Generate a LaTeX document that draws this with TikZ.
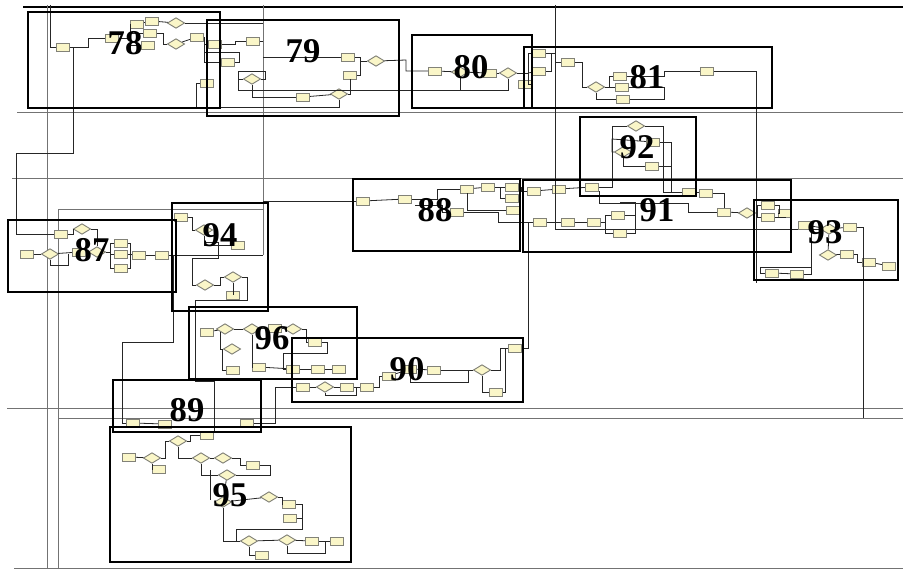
\documentclass[tikz,border=0pt]{standalone}
\usepackage{fontspec}
\setmainfont{Liberation Serif}
\usepackage{xcolor}
\definecolor{boxyellow}{RGB}{250,246,200}
\definecolor{boxedge}{RGB}{130,130,120}
\definecolor{boxblue}{RGB}{40,60,170}
\usetikzlibrary{shapes.geometric}
\tikzset{
  blk/.style={draw=boxedge, fill=boxyellow, line width=0.7pt, minimum width=10pt, minimum height=6pt, inner sep=0pt},
  blkb/.style={blk, path picture={\draw[boxblue, line width=1pt] (path picture bounding box.north west) -- (path picture bounding box.north east);}},
  dec/.style={draw=boxedge, fill=boxyellow, diamond, aspect=1.6, minimum width=13pt, minimum height=8pt, inner sep=0pt, line width=0.7pt},
  wire/.style={draw=black!85, line width=0.6pt},
  grid line/.style={draw=black!55, line width=0.6pt},
  frame/.style={draw=black, line width=1.6pt},
  num/.style={font=\fontsize{26}{26}\selectfont\bfseries, inner sep=0pt},
}
\begin{document}
\begin{tikzpicture}[x=0.75pt, y=-0.75pt]
  \useasboundingbox (0,0) rectangle (903,569);
  % long lines of the sheet
  \draw[line width=1.8pt] (23,7) -- (903,7);
  \draw[grid line] (17,112) -- (903,112);
  \draw[grid line] (12,178) -- (903,178);
  \draw[grid line] (7,408) -- (903,408);
  \draw[grid line] (58,418) -- (903,418);
  \draw[grid line] (14,568) -- (903,568);
  \draw[grid line] (47,5) -- (47,569);
  \draw[grid line] (58,569) -- (58,209) -- (263,209);
  \draw[grid line] (263,5) -- (263,255);
  \coordinate (t50) at (50,5); \coordinate (t555) at (555,5); \coordinate (k78) at (73,47);
  \coordinate (j79) at (263,57); \coordinate (j88) at (263,201); \coordinate (j87) at (263,255);
  \coordinate (s94) at (173,255); \coordinate (e81) at (756,283); \coordinate (e93) at (863,418);

  % 78
  \node[blk] (b78a) at (63,47) {}; \node[blk] (b78b) at (112,38) {};
  \node[blk] (b78c) at (137,24) {}; \node[blk] (b78d) at (152,21) {};
  \node[blk] (b78e) at (150,33) {}; \node[blk] (b78f) at (148,45) {};
  \node[dec] (d78a) at (176,23) {}; \node[dec] (d78b) at (176,44) {};
  \node[blk] (b78g) at (197,37) {}; \node[blk] (b78h) at (207,83) {};
  % 79
  \node[blk] (b79a) at (215,44) {}; \node[blk] (b79b) at (228,62) {};
  \node[blk] (b79c) at (253,41) {}; \node[dec] (d79a) at (252,79) {};
  \node[blk] (b79d) at (303,97) {}; \node[dec] (d79b) at (339,94) {};
  \node[blk] (b79e) at (348,57) {}; \node[blk] (b79f) at (350,75) {};
  \node[dec] (d79c) at (376,61) {};
  % 80
  \node[blk] (b80a) at (435,71) {}; \node[dec] (d80a) at (460,72) {};
  \node[blk] (b80b) at (490,73) {}; \node[dec] (d80b) at (508,73) {};
  \node[blkb] (b80c) at (525,84) {};
  % 81
  \node[blk] (b81a) at (539,53) {}; \node[blk] (b81b) at (539,71) {};
  \node[blk] (b81c) at (568,62) {}; \node[dec] (d81a) at (596,87) {};
  \node[blk] (b81d) at (620,76) {}; \node[blk] (b81e) at (622,87) {};
  \node[blk] (b81f) at (623,99) {}; \node[blk] (b81g) at (707,71) {};
  % 92
  \node[dec] (d92a) at (636,126) {}; \node[blk] (b92a) at (653,142) {};
  \node[dec] (d92b) at (623,152) {}; \node[blk] (b92b) at (652,166) {};
  % 88
  \node[blkb] (b88a) at (363,201) {}; \node[blk] (b88b) at (405,199) {};
  \node[blk] (b88c) at (467,189) {}; \node[blk] (b88d) at (488,187) {};
  \node[blk] (b88e) at (512,187) {}; \node[blk] (b88f) at (512,198) {};
  \node[blk] (b88g) at (513,210) {}; \node[blk] (b88h) at (457,212) {};
  % 91
  \node[blkb] (b91a) at (534,191) {}; \node[blk] (b91b) at (559,189) {};
  \node[blk] (b91c) at (592,187) {}; \node[blkb] (b91d) at (689,192) {};
  \node[blk] (b91e) at (706,193) {}; \node[blkb] (b91f) at (724,212) {};
  \node[dec] (d91a) at (747,213) {};
  \node[blkb] (b91g) at (540,222) {}; \node[blk] (b91h) at (568,222) {};
  \node[blk] (b91i) at (594,222) {}; \node[blk] (b91j) at (618,215) {};
  \node[blk] (b91k) at (620,233) {};
  % 93
  \node[blk] (b93a) at (768,205) {}; \node[blk] (b93b) at (768,217) {};
  \node[blk] (b93c) at (785,213) {}; \node[blkb] (b93d) at (805,225) {};
  \node[dec] (d93a) at (829,229) {}; \node[blk] (b93e) at (850,227) {};
  \node[dec] (d93b) at (828,255) {}; \node[blk] (b93f) at (847,254) {};
  \node[blk] (b93g) at (869,262) {}; \node[blk] (b93h) at (889,266) {};
  \node[blk] (b93i) at (772,273) {}; \node[blk] (b93j) at (797,274) {};
  % 87
  \node[blk] (b87a) at (27,254) {}; \node[dec] (d87a) at (50,254) {};
  \node[blk] (b87b) at (61,234) {}; \node[dec] (d87b) at (82,229) {};
  \node[blk] (b87c) at (79,252) {}; \node[dec] (d87c) at (97,252) {};
  \node[blk] (b87d) at (121,243) {}; \node[blk] (b87e) at (121,254) {};
  \node[blk] (b87f) at (121,268) {}; \node[blk] (b87g) at (139,255) {};
  \node[blk] (b87h) at (162,255) {};
  % 94
  \node[blk] (b94a) at (181,217) {}; \node[dec] (d94a) at (204,230) {};
  \node[blk] (b94b) at (238,245) {}; \node[dec] (d94b) at (205,285) {};
  \node[dec] (d94c) at (233,277) {}; \node[blk] (b94c) at (233,295) {};
  % 96
  \node[blk] (b96a) at (207,332) {}; \node[dec] (d96a) at (225,329) {};
  \node[dec] (d96b) at (252,329) {}; \node[blk] (b96b) at (275,328) {};
  \node[dec] (d96c) at (293,329) {}; \node[blk] (b96c) at (315,342) {};
  \node[dec] (d96d) at (232,349) {}; \node[blk] (b96d) at (233,370) {};
  \node[blk] (b96e) at (259,367) {}; \node[blk] (b96f) at (293,369) {};
  \node[blk] (b96g) at (318,369) {}; \node[blk] (b96h) at (339,369) {};
  % 90
  \node[blk] (b90a) at (303,387) {}; \node[dec] (d90a) at (325,387) {};
  \node[blk] (b90b) at (347,387) {}; \node[blk] (b90c) at (367,387) {};
  \node[blk] (b90d) at (389,376) {}; \node[blk] (b90e) at (410,369) {};
  \node[blk] (b90f) at (434,370) {}; \node[dec] (d90b) at (482,370) {};
  \node[blk] (b90g) at (496,392) {}; \node[blk] (b90h) at (515,348) {};
  % 89
  \node[blk] (b89a) at (133,423) {}; \node[blk] (b89b) at (165,424) {};
  \node[blkb] (b89c) at (247,423) {};
  % 95
  \node[blk] (b95a) at (129,457) {}; \node[dec] (d95a) at (152,458) {};
  \node[blk] (b95b) at (159,469) {}; \node[dec] (d95b) at (178,441) {};
  \node[blk] (b95c) at (207,435) {}; \node[dec] (d95c) at (201,458) {};
  \node[dec] (d95d) at (223,458) {}; \node[blk] (b95d) at (253,465) {};
  \node[dec] (d95e) at (227,475) {}; \node[dec] (d95f) at (223,502) {};
  \node[dec] (d95g) at (269,497) {}; \node[blk] (b95e) at (289,504) {};
  \node[blk] (b95f) at (290,518) {}; \node[dec] (d95h) at (249,541) {};
  \node[blk] (b95g) at (262,555) {}; \node[dec] (d95i) at (287,540) {};
  \node[blk] (b95h) at (312,541) {}; \node[blk] (b95i) at (337,541) {};

  % connectors
  \draw[wire] (t50) |- (b78a); \draw[wire] (b78a) -- (88,47) |- (b78b);
  \draw[wire] (b78b) -- (130,38) |- (b78c); \draw[wire] (130,38) |- (b78f); \draw[wire] (130,33) -- (b78e);
  \draw[wire] (b78c) -- (b78d); \draw[wire] (b78d) -- (d78a); \draw[wire] (b78e) -| (163,44) -- (d78b);
  \draw[wire] (d78b) -- (b78g); \draw[wire] (d78a) -- (j79 |- d78a);
  \draw[wire] (b78g) -| (204,62) -- (b79b); \draw[wire] (b79a) -- (204,44);
  \draw[wire] (k78) -- (73,153) -- (16,153) |- (b87b);
  \draw[wire] (d79b) |- (196,107) |- (b78h);
  \draw[wire] (b79a) -- (235,44) |- (b79c); \draw[wire] (b79c) -- (263,41);
  \draw[wire] (j79) -- (b79e); \draw[wire] (b79e) -- (360,57) |- (d79c); \draw[wire] (b79f) -| (360,61);
  \draw[wire] (b79b) -- (239,62) |- (204,52);
  \draw[wire] (d79a) |- (b79d); \draw[wire] (b79d) -- (d79b); \draw[wire] (d79b) -| (b79f);
  \draw[wire] (d79a) -| (265,71) -- (238,71) -- (238,79);
  \draw[wire] (d79a) -| (238,90) -| (d80b); \draw[wire] (d80a) -- (d80a |- 0,90);
  \draw[wire] (d79c) -- (406,60) |- (b80a);
  \draw[wire] (b80a) -- (d80a); \draw[wire] (d80a) -- (b80b); \draw[wire] (b80b) -- (d80b);
  \draw[wire] (d80b) -- (528,73) |- (b81a); \draw[wire] (528,73) -- (b81b); \draw[wire] (b80c) -| (528,73);
  \draw[wire] (b81a) -| (551,71) -- (b81b);
  \draw[wire] (b81a) -- (555,53) |- (b81c); \draw[wire] (b81c) -- (582,62) |- (d81a);
  \draw[wire] (d81a) -- (b81e); \draw[wire] (d81a) -- (609,87) |- (b81d); \draw[wire] (d81a) |- (b81f);
  \draw[wire] (b81d) -| (664,71) -- (b81g); \draw[wire] (b81e) -- (664,87); \draw[wire] (b81f) -| (664,87);
  \draw[wire] (b81g) -| (e81);
  \draw[wire] (b91c) -- (612,187) |- (d92a); \draw[wire] (d92a) -| (663,192) -- (b91d);
  \draw[wire] (b92a) -- (671,142) |- (b91d); \draw[wire] (b92b) -- (671,166);
  \draw[wire] (d92b) -| (612,139) -- (b92a); \draw[wire] (d92b) |- (b92b);
  \draw[wire] (j88) -- (b88a); \draw[wire] (b88a) -- (b88b);
  \draw[wire] (b88b) -- (437,199) |- (b88c); \draw[wire] (b88c) -- (b88d); \draw[wire] (b88d) -- (b88e);
  \draw[wire] (b88d) -- (500,187) |- (b88f); \draw[wire] (b88c.south) |- (b88g);
  \draw[wire] (b88e) -| (521,191) -- (b91a); \draw[wire] (b88h) -| (498,222) -- (b91g);
  \draw[wire] (b88h.west) -- (442,212) |- (415,205);
  \draw[wire] (b91a) -- (b91b); \draw[wire] (b91b) -- (b91c);
  \draw[wire] (b91c.south east) |- (688,203) |- (b91f);
  \draw[wire] (b91d) -- (b91e); \draw[wire] (b91e) -| (b91f); \draw[wire] (b91f) -- (d91a);
  \draw[wire] (d91a) -- (757,213) |- (b93a); \draw[wire] (757,213) |- (b93b);
  \draw[wire] (b93a) -- (779,205) -- (779,213) -- (b93c); \draw[wire] (b93b) -| (b93c);
  \draw[wire] (b91g) -- (b91h); \draw[wire] (b91h) -- (b91i);
  \draw[wire] (b91i) -- (605,222) |- (b91j); \draw[wire] (605,222) |- (b91k);
  \draw[wire] (b91j) -| (635,202) -- (620,202); \draw[wire] (b91k) -| (635,215);
  \draw[wire] (t555) |- (b93d.south west);
  \draw[wire] (b93d) -- (d93a); \draw[wire] (d93a) -- (b93e); \draw[wire] (b93e) -| (e93);
  \draw[wire] (d93a) -- (d93b); \draw[wire] (b93i) -- (b93j); \draw[wire] (b93j) -- (811,274) |- (d93a);
  \draw[wire] (d93b) -- (b93f); \draw[wire] (b93f) -- (857,254) |- (b93g); \draw[wire] (b93g) -- (b93h);
  \draw[wire] (b93i) -| (760,267) -- (811,267);
  \draw[wire] (b87a) -- (d87a); \draw[wire] (d87a) -- (b87c); \draw[wire] (b87c) -- (d87c);
  \draw[wire] (d87a) |- (68,265) -- (68,254);
  \draw[wire] (b87b) -| (73,229) -- (d87b); \draw[wire] (d87b) -| (d87c);
  \draw[wire] (d87c) -| (110,243) -- (b87d); \draw[wire] (110,243) |- (b87f); \draw[wire] (110,254) -- (b87e);
  \draw[wire] (b87d) -| (130,268) -- (b87f); \draw[wire] (b87e) -- (b87g); \draw[wire] (b87g) -- (b87h);
  \draw[wire] (b87h) -- (j87);
  \draw[wire] (b94a) -- (192,217) |- (d94a); \draw[wire] (d94a) |- (b94b);
  \draw[wire] (d94a) -- (204,242) -| (218,258) -| (192,285) -- (d94b);
  \draw[wire] (d94b) -| (220,277) -- (d94c); \draw[wire] (d94c) |- (b94c);
  \draw[wire] (d94c) -| (247,300) -| (195,381) -| (b95c.north east);
  \draw[wire] (s94) -- (173,342) -| (122,423) -- (b89a);
  \draw[wire] (b96a) -- (d96a); \draw[wire] (d96a) -- (d96b); \draw[wire] (d96b) -- (b96b); \draw[wire] (b96b) -- (d96c);
  \draw[wire] (d96c) -- (306,329) |- (b96c); \draw[wire] (b96c) -| (327,353) -| (283,369) -- (b96f);
  \draw[wire] (d96a.south west) |- (d96d); \draw[wire] (d96d) -| (222,370) -- (b96d);
  \draw[wire] (d96b) |- (b96e); \draw[wire] (b96e) -- (b96f); \draw[wire] (b96f) -- (b96g); \draw[wire] (b96g) -- (b96h);
  \draw[wire] (b89a) -- (b89b); \draw[wire] (b89c) -- (275,423) |- (b90a);
  \draw[wire] (b90a) -- (d90a); \draw[wire] (d90a) -- (b90b); \draw[wire] (b90b) -- (b90c);
  \draw[wire] (d90a) |- (356,395) -- (356,387);
  \draw[wire] (b90c) -- (379,387) |- (b90d); \draw[wire] (b90d) -- (b90e); \draw[wire] (b90e) -- (b90f);
  \draw[wire] (b90f) -- (d90b); \draw[wire] (b90e) |- (468,382) -- (468,370);
  \draw[wire] (d90b) -- (500,370) |- (b90h); \draw[wire] (d90b) |- (b90g); \draw[wire] (b90g) -| (505,348);
  \draw[wire] (b90h) -| (528,222) -- (b91g);
  \draw[wire] (b95a) -- (d95a); \draw[wire] (d95a) |- (b95b); \draw[wire] (d95a) -- (165,458) |- (d95b);
  \draw[wire] (d95b) -| (190,435) -- (b95c); \draw[wire] (d95b) |- (d95c);
  \draw[wire] (d95c) -- (d95d); \draw[wire] (d95d) -- (240,458) |- (b95d); \draw[wire] (b95d) -| (270,475) -- (d95e);
  \draw[wire] (d95c) |- (d95e); \draw[wire] (d95e) -- (d95f); \draw[wire] (210,470) -- (210,500);
  \draw[wire] (d95f) -- (d95g); \draw[wire] (d95g) -| (282,504) -- (b95e);
  \draw[wire] (b95e) -| (302,529) -| (236,541) -- (d95h); \draw[wire] (b95f) -| (302,518);
  \draw[wire] (d95f) |- (d95h); \draw[wire] (d95h) -- (d95i); \draw[wire] (d95i) -- (b95h); \draw[wire] (b95h) -- (b95i);
  \draw[wire] (d95i) |- (325,553) -- (325,541); \draw[wire] (d95h) |- (b95g);

  % frames of the sheet parts
  \draw[frame] (28,12) rectangle (220,108);
  \draw[frame] (207,20) rectangle (399,116);
  \draw[frame] (412,35) rectangle (532,108);
  \draw[frame] (524,47) rectangle (772,108);
  \draw[frame] (580,117) rectangle (696,196);
  \draw[frame] (353,179) rectangle (520,251);
  \draw[frame] (523,180) rectangle (791,252);
  \draw[frame] (754,200) rectangle (898,280);
  \draw[frame] (8,220) rectangle (176,292);
  \draw[frame] (172,203) rectangle (268,311);
  \draw[frame] (189,307) rectangle (357,379);
  \draw[frame] (292,338) rectangle (523,402);
  \draw[frame] (113,380) rectangle (261,432);
  \draw[frame] (110,427) rectangle (351,562);

  \node[num] (n78) at (125,43) {78}; \node[num] (n79) at (303,51) {79};
  \node[num] (n80) at (471,67) {80}; \node[num] (n81) at (647,77) {81};
  \node[num] (n92) at (637,147) {92}; \node[num] (n88) at (435,210) {88};
  \node[num] (n91) at (657,210) {91}; \node[num] (n93) at (825,232) {93};
  \node[num] (n87) at (92,250) {87}; \node[num] (n94) at (220,235) {94};
  \node[num] (n96) at (272,338) {96}; \node[num] (n90) at (407,369) {90};
  \node[num] (n89) at (187,410) {89}; \node[num] (n95) at (230,495) {95};
\end{tikzpicture}
\end{document}
